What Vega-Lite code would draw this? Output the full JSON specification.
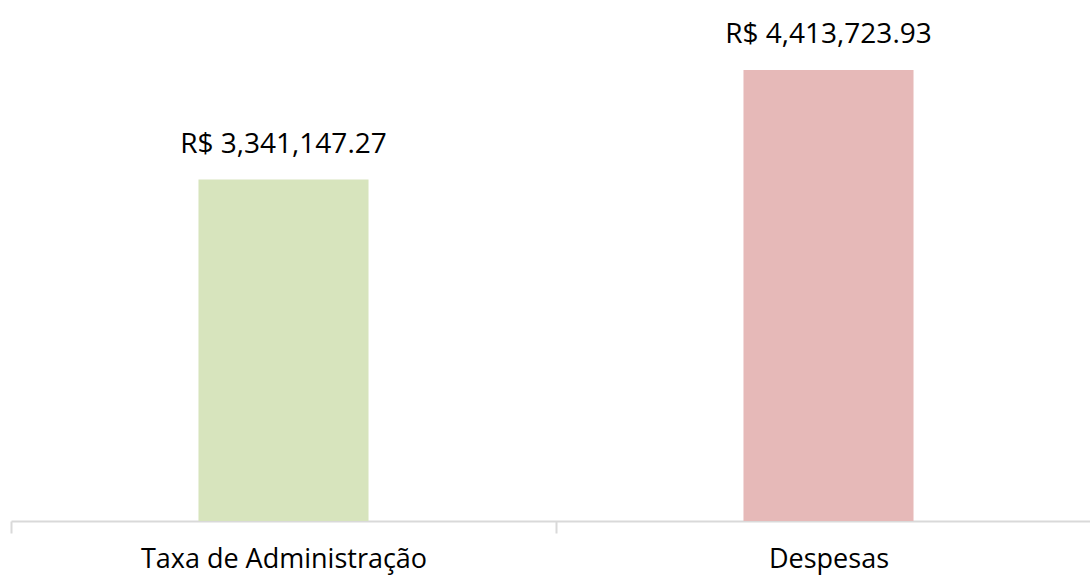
{
  "$schema": "https://vega.github.io/schema/vega-lite/v6.json",
  "autosize": {"type": "none"},
  "width": 1090,
  "height": 511,
  "padding": {"left": 11, "top": 10, "right": 0, "bottom": 55},
  "background": "white",
  "config": {"view": {"stroke": null}},
  "data": {
    "values": [
      {"categoria": "Taxa de Administração", "valor": 3341147.27, "label": "R$ 3,341,147.27", "cor": "#d7e4bd"},
      {"categoria": "Despesas", "valor": 4413723.93, "label": "R$ 4,413,723.93", "cor": "#e6b9b8"}
    ]
  },
  "encoding": {
    "x": {
      "field": "categoria",
      "type": "nominal",
      "sort": null,
      "scale": {"paddingInner": 0, "paddingOuter": 0},
      "axis": {
        "title": null,
        "labelAngle": 0,
        "labelFont": "Open Sans",
        "labelFontSize": 27,
        "labelColor": "#000000",
        "labelPadding": 13,
        "labelLimit": 0,
        "domainColor": "#d9d9d9",
        "domainWidth": 2,
        "tickColor": "#d9d9d9",
        "tickWidth": 2,
        "tickSize": 12,
        "tickBand": "extent",
        "grid": false
      }
    },
    "y": {
      "field": "valor",
      "type": "quantitative",
      "scale": {"domain": [0, 5000000]},
      "axis": null
    }
  },
  "layer": [
    {
      "mark": {"type": "bar", "width": {"band": 0.312}},
      "encoding": {
        "color": {"field": "cor", "type": "nominal", "scale": null, "legend": null}
      }
    },
    {
      "mark": {"type": "text", "baseline": "alphabetic", "dy": -27, "font": "Open Sans", "fontSize": 28, "color": "#000000"},
      "encoding": {
        "text": {"field": "label", "type": "nominal"}
      }
    }
  ]
}
